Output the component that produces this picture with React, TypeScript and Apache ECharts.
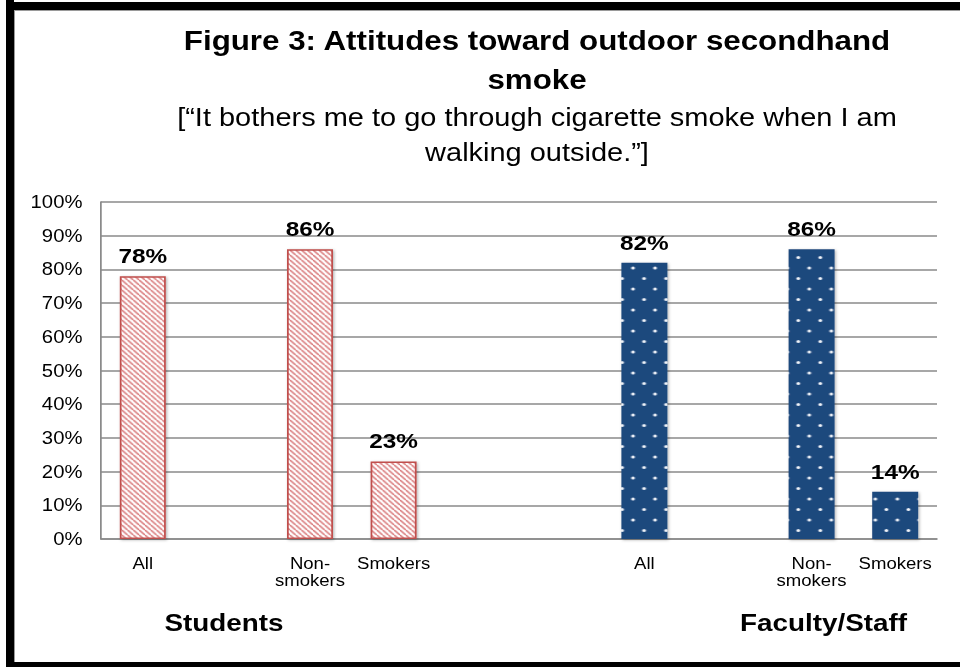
import React, { useEffect, useRef } from "react";
import * as echarts from "echarts";

// ---- data ----
const categories = ["All", "", "Non-\nsmokers", "Smokers", "", "", "All", "", "Non-\nsmokers", "Smokers"];
const values: (number | null)[] = [78, null, 86, 23, null, null, 82, null, 86, 14];
const barGroup = [0, 0, 0, 0, 0, 0, 1, 1, 1, 1]; // 0 = Students, 1 = Faculty/Staff
const groupNames = ["Students", "Faculty/Staff"];
const yTicks = { min: 0, max: 100, interval: 10 };
const titleLines = ["Figure 3: Attitudes toward outdoor secondhand", "smoke"];
const subtitleLines = ["[\u201cIt bothers me to go through cigarette smoke when I am", "walking outside.\u201d]"];

const SX = 960 / 828;
const W = 828;
const H = 667;
const FONT = '"Liberation Sans", Arial, Helvetica, sans-serif';

function hatchPattern(): HTMLCanvasElement {
  const c = document.createElement("canvas");
  c.width = 5;
  c.height = 5;
  const ctx = c.getContext("2d")!;
  ctx.fillStyle = "#ffffff";
  ctx.fillRect(0, 0, 5, 5);
  ctx.strokeStyle = "#d8797a";
  ctx.lineWidth = 1.5;
  for (const k of [-5, 0, 5]) {
    ctx.beginPath();
    ctx.moveTo(k, 0);
    ctx.lineTo(k + 5, 5);
    ctx.stroke();
  }
  return c;
}

function dotPattern(): HTMLCanvasElement {
  const c = document.createElement("canvas");
  c.width = 19;
  c.height = 21;
  const ctx = c.getContext("2d")!;
  ctx.fillStyle = "#1f497d";
  ctx.fillRect(0, 0, 19, 21);
  ctx.fillStyle = "#eef2f8";
  for (const [x, y] of [[4.5, 5.5], [14, 16]]) {
    ctx.beginPath();
    ctx.arc(x, y, 1.6, 0, Math.PI * 2);
    ctx.fill();
  }
  return c;
}

export default function App() {
  const ref = useRef<HTMLDivElement>(null);
  useEffect(() => {
    if (!ref.current) return;
    const chart = echarts.init(ref.current, null, { renderer: "svg" });
    const hatch = hatchPattern();
    const dots = dotPattern();
    const groupStyles = [
      { color: { image: hatch, repeat: "repeat" }, borderColor: "#c0504d", borderWidth: 1.5 },
      { color: { image: dots, repeat: "repeat" }, borderColor: "#1f497d", borderWidth: 0 },
    ];
    const data = values.map((v, i) =>
      v == null
        ? null
        : {
            value: v,
            itemStyle: {
              ...groupStyles[barGroup[i]],
              shadowColor: "rgba(0,0,0,0.3)",
              shadowBlur: 3,
              shadowOffsetX: 1,
              shadowOffsetY: 1,
            },
          }
    );
    const cx = 537 / SX;
    const text = (t: string, x: number, y: number, font: string) => ({
      type: "text",
      x,
      y,
      style: {
        text: t,
        font,
        fill: "#000",
        align: "center",
        verticalAlign: "middle",
        textAlign: "center",
        textVerticalAlign: "middle",
      },
    });
    chart.setOption({
      animation: false,
      backgroundColor: "#fff",
      grid: { left: 101 / SX, right: 23 / SX, top: 202, bottom: 128, containLabel: false },
      xAxis: {
        type: "category",
        data: categories,
        axisTick: { show: false },
        axisLine: { show: true, lineStyle: { color: "#8a8a8a", width: 1.5 } },
        axisLabel: {
          interval: 0,
          color: "#000",
          fontFamily: FONT,
          fontSize: 16,
          lineHeight: 17,
          margin: 16,
        },
      },
      yAxis: {
        type: "value",
        min: yTicks.min,
        max: yTicks.max,
        interval: yTicks.interval,
        axisLine: { show: true, lineStyle: { color: "#8a8a8a", width: 1.5 } },
        axisTick: { show: false },
        splitLine: { lineStyle: { color: "#8a8a8a", width: 1.5 } },
        axisLabel: {
          formatter: "{value}%",
          color: "#000",
          fontFamily: FONT,
          fontSize: 17.5,
          margin: 16,
        },
      },
      series: [
        {
          type: "bar",
          data,
          barWidth: 46 / SX,
          label: {
            show: true,
            position: "top",
            distance: 10,
            formatter: "{c}%",
            color: "#000",
            fontFamily: FONT,
            fontWeight: "bold",
            fontSize: 21,
          },
        },
      ],
      graphic: [
        { type: "rect", shape: { x: 6 / SX, y: 0, width: 8 / SX, height: H }, style: { fill: "#000" } },
        { type: "rect", shape: { x: 6 / SX, y: 2, width: W, height: 8 }, style: { fill: "#000" } },
        { type: "rect", shape: { x: 6 / SX, y: 662, width: W, height: 6 }, style: { fill: "#000" } },
        { type: "rect", shape: { x: 14 / SX, y: 10, width: 1 / SX, height: 652 }, style: { fill: "#9a9a9a" } },
        { type: "rect", shape: { x: 14 / SX, y: 10, width: W, height: 1 }, style: { fill: "#9a9a9a" } },
        text(titleLines[0], cx, 41, `bold 27px ${FONT}`),
        text(titleLines[1], cx, 80, `bold 27px ${FONT}`),
        text(subtitleLines[0], cx, 118, `25px ${FONT}`),
        text(subtitleLines[1], cx, 153, `25px ${FONT}`),
        text(groupNames[0], 224 / SX, 623, `bold 24px ${FONT}`),
        text(groupNames[1], 823.5 / SX, 623, `bold 24px ${FONT}`),
      ],
    });
    return () => chart.dispose();
  }, []);
  return (
    <div style={{ position: "absolute", left: 0, top: 0, width: 960, height: H, overflow: "hidden", background: "#fff" }}>
      <div
        ref={ref}
        style={{ width: W, height: H, transform: `scaleX(${SX})`, transformOrigin: "0 0" }}
      />
    </div>
  );
}
